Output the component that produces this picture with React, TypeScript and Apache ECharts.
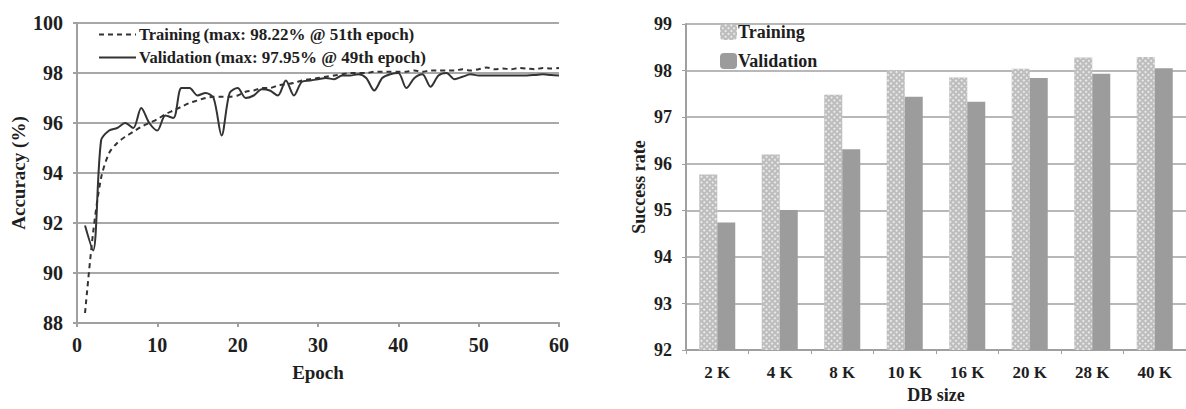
import React, { useEffect, useRef } from "react";
import * as echarts from "echarts";

const epochs = [1,2,3,4,5,6,7,8,9,10,11,12,13,14,15,16,17,18,19,20,21,22,23,24,25,26,27,28,29,30,31,32,33,34,35,36,37,38,39,40,41,42,43,44,45,46,47,48,49,50,51,52,53,54,55,56,57,58,59,60];
const trainingAcc = [88.4,91.6,93.8,94.8,95.2,95.45,95.65,95.85,96.0,96.15,96.35,96.5,96.65,96.8,96.9,97.0,97.05,97.05,97.05,97.1,97.25,97.3,97.4,97.4,97.5,97.55,97.6,97.7,97.75,97.8,97.85,97.9,97.95,98.0,98.0,98.0,98.05,98.05,98.05,98.05,98.05,98.1,98.05,98.1,98.1,98.1,98.1,98.15,98.1,98.15,98.22,98.15,98.18,98.15,98.2,98.18,98.15,98.2,98.18,98.2];
const validationAcc = [91.9,90.9,95.3,95.7,95.8,96.0,95.8,96.6,96.0,95.7,96.3,96.2,97.4,97.4,97.1,97.2,97.0,95.5,97.2,97.4,97.0,97.1,97.35,97.3,97.1,97.7,97.1,97.65,97.7,97.75,97.8,97.75,97.9,97.9,97.95,97.8,97.3,97.8,97.95,98.0,97.4,97.8,97.95,97.45,97.9,98.0,97.75,97.85,97.95,97.9,97.9,97.9,97.9,97.9,97.9,97.9,97.92,97.95,97.92,97.9];
const lineTrainingName = "Training (max: 98.22% @ 51th epoch)";
const lineValidationName = "Validation (max: 97.95% @ 49th epoch)";

const dbSizes = ["2 K","4 K","8 K","10 K","16 K","20 K","28 K","40 K"];
const barTraining = [95.77,96.2,97.48,98.01,97.85,98.04,98.28,98.29];
const barValidation = [94.74,95.01,96.31,97.44,97.33,97.84,97.93,98.05];

const FONT = "Liberation Serif";
const TXT = "#1e1e1e";

export default function App() {
  const ref = useRef<HTMLDivElement>(null);
  useEffect(() => {
    if (!ref.current) return;
    const chart = echarts.init(ref.current, null, { renderer: "svg" });
    const bold = { fontFamily: FONT, fontWeight: "bold" as const, color: TXT };
    const axisLine = { show: true, lineStyle: { color: "#a0a0a0", width: 2 } };
    const legendRich = {
      a: { ...bold, fontSize: 16.5 },
      b: { ...bold, fontSize: 17 },
      c: { ...bold, fontSize: 18 },
    };
    const lineLegendFormatter = (name: string) => {
      const i = name.indexOf(" (");
      return `{a|${name.slice(0, i)}} {b|${name.slice(i + 1)}}`;
    };
    const barLegendFormatter = (name: string) => `{c|${name}}`;
    const lineLegend = {
      left: 93, itemWidth: 37, itemHeight: 14,
      formatter: lineLegendFormatter, textStyle: { rich: legendRich, padding: [0, 0, 0, -2] },
      itemStyle: { opacity: 0 },
      lineStyle: { width: 2 },
    };
    const barLegend = {
      left: 715, itemWidth: 17, itemHeight: 16, itemGap: 4,
      formatter: barLegendFormatter, textStyle: { rich: legendRich, padding: [0, 0, 0, -4] },
    };
    chart.setOption({
      animation: false,
      backgroundColor: "#ffffff",
      legend: [
        { ...lineLegend, data: [lineTrainingName], top: 21 },
        { ...lineLegend, data: [lineValidationName], top: 44 },
        { ...barLegend, data: ["Training"], top: 18 },
        { ...barLegend, data: ["Validation"], top: 47 },
      ],
      grid: [
        { left: 77, top: 23, width: 482, height: 300 },
        { left: 686, top: 24, width: 505, height: 330 },
      ],
      xAxis: [
        {
          gridIndex: 0, type: "value", min: 0, max: 60, interval: 10,
          name: "Epoch", nameLocation: "middle", nameGap: 40, nameTextStyle: { ...bold, fontSize: 19 },
          axisLine, axisTick: { show: true, length: 4, lineStyle: { color: "#a0a0a0", width: 2 } },
          axisLabel: { ...bold, fontSize: 20, margin: 12 }, splitLine: { show: false },
        },
        {
          gridIndex: 1, type: "category", data: dbSizes,
          name: "DB size", nameLocation: "middle", nameGap: 35, nameTextStyle: { ...bold, fontSize: 18 },
          axisLine, axisTick: { show: true, length: 4, lineStyle: { color: "#a0a0a0", width: 1 } },
          axisLabel: { ...bold, fontSize: 17, margin: 14 },
        },
      ],
      yAxis: [
        {
          gridIndex: 0, type: "value", min: 88, max: 100, interval: 2,
          name: "Accuracy (%)", nameLocation: "middle", nameGap: 49, nameTextStyle: { ...bold, fontSize: 19 },
          axisLine, axisTick: { show: true, length: 4, lineStyle: { color: "#a0a0a0", width: 2 } },
          axisLabel: { ...bold, fontSize: 20, margin: 14 },
          splitLine: { show: true, lineStyle: { color: "#a8a8a8", width: 2 } },
        },
        {
          gridIndex: 1, type: "value", min: 92, max: 99, interval: 1,
          name: "Success rate", nameLocation: "middle", nameGap: 38, nameTextStyle: { ...bold, fontSize: 18 },
          axisLine, axisTick: { show: true, length: 4, lineStyle: { color: "#a0a0a0", width: 1 } },
          axisLabel: { ...bold, fontSize: 18, margin: 14 },
          splitLine: { show: true, lineStyle: { color: "#b8b8b8", width: 2 } },
        },
      ],
      series: [
        {
          name: lineTrainingName, type: "line", xAxisIndex: 0, yAxisIndex: 0,
          data: epochs.map((e, i) => [e, trainingAcc[i]]),
          symbol: "none", smooth: 0.3,
          lineStyle: { color: "#333333", width: 2, type: [5, 4] },
          itemStyle: { color: "#333333" },
          z: 3,
        },
        {
          name: lineValidationName, type: "line", xAxisIndex: 0, yAxisIndex: 0,
          data: epochs.map((e, i) => [e, validationAcc[i]]),
          symbol: "none", smooth: 0.3,
          lineStyle: { color: "#333333", width: 2, type: "solid" },
          itemStyle: { color: "#333333" },
          z: 4,
        },
        {
          name: "Training", type: "bar", xAxisIndex: 1, yAxisIndex: 1,
          data: barTraining, barWidth: 18, barGap: "0%",
          itemStyle: {
            color: "#bdbdbd",
            decal: { symbol: "rect", symbolSize: 1, color: "#e8e8e8", dashArrayX: 2, dashArrayY: 2, rotation: Math.PI / 4 },
          },
        },
        {
          name: "Validation", type: "bar", xAxisIndex: 1, yAxisIndex: 1,
          data: barValidation, barWidth: 18, barGap: "0%",
          itemStyle: { color: "#9c9c9c" },
        },
      ],
    });
    return () => chart.dispose();
  }, []);
  return <div ref={ref} style={{ position: "absolute", left: 0, top: 0, width: 1186, height: 409 }} />;
}
